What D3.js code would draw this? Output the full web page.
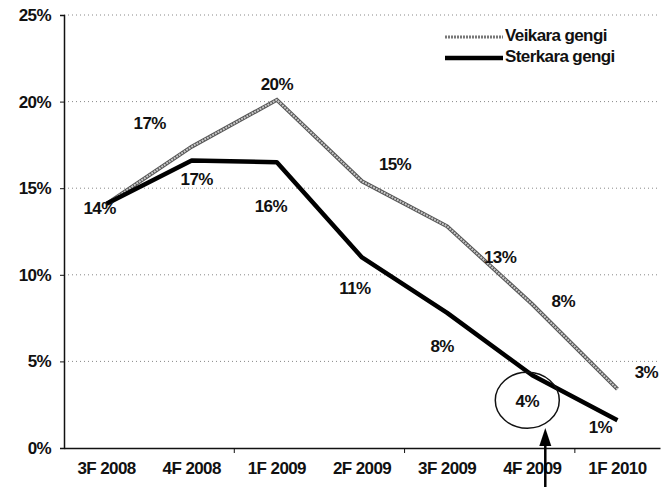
<!DOCTYPE html>
<html>
<head>
<meta charset="utf-8">
<script src="https://cdn.jsdelivr.net/npm/d3@7"></script>
<style>
  body { margin: 0; background: #fff; }
  text { font-family: "Liberation Sans", Arial, sans-serif; fill: #111; letter-spacing: -0.6px; }
</style>
</head>
<body>
<svg id="plot"></svg>
<script>
// Data
var quarters = ['3F 2008', '4F 2008', '1F 2009', '2F 2009', '3F 2009', '4F 2009', '1F 2010'];
var veikara = [14.1, 17.4, 20.1, 15.4, 12.8, 8.3, 3.4];
var sterkara = [14.1, 16.6, 16.5, 11.0, 7.8, 4.2, 1.6];
var veikaraLabels = ['', '17%', '20%', '15%', '13%', '8%', '3%'];
var sterkaraLabels = ['14%', '17%', '16%', '11%', '8%', '4%', '1%'];
var yTicks = [0, 5, 10, 15, 20, 25];
var seriesNames = ['Veikara gengi', 'Sterkara gengi'];

// label offsets from their points
var veikaraOffsets = [[0, 0], [-42, -22], [0, -14], [33, -16], [53, 32], [31, -2], [29, -16]];
var sterkaraOffsets = [[-7, 6], [5, 20], [-6, 45], [-7, 32], [-5, 35], [-5, 27], [-17, 8]];

var width = 667, height = 487;
var margin = {top: 15, right: 7, bottom: 39, left: 64};

var svg = d3.select('#plot')
  .attr('width', width)
  .attr('height', height);

var xScale = d3.scaleBand()
  .domain(quarters)
  .range([margin.left, width - margin.right]);

var yScale = d3.scaleLinear()
  .domain([0, 25])
  .range([height - margin.bottom, margin.top]);

var cx = d => xScale(d) + xScale.bandwidth() / 2;

// Gridlines
svg.append('g')
  .selectAll('line')
  .data(yTicks.filter(d => d > 0))
  .enter().append('line')
    .attr('x1', margin.left)
    .attr('x2', width - margin.right)
    .attr('y1', d => yScale(d))
    .attr('y2', d => yScale(d))
    .attr('stroke', '#888')
    .attr('stroke-width', 1)
    .attr('stroke-dasharray', '1,3');

// Y axis
var yAxis = svg.append('g')
  .attr('transform', 'translate(' + margin.left + ',0)')
  .call(d3.axisLeft(yScale).tickValues(yTicks).tickFormat(d => d + '%').tickSize(4));
yAxis.select('.domain').attr('stroke', '#111').attr('stroke-width', 1.5);
yAxis.selectAll('.tick line').attr('stroke', '#111');
yAxis.selectAll('text')
  .attr('x', -13)
  .style('font-size', '17px')
  .style('font-family', '"Liberation Sans", Arial, sans-serif')
  .style('font-weight', 'bold');

// X axis
var xAxis = svg.append('g')
  .attr('transform', 'translate(0,' + (height - margin.bottom) + ')')
  .call(d3.axisBottom(xScale).tickSize(0).tickSizeOuter(0));
xAxis.select('.domain').attr('stroke', '#111').attr('stroke-width', 1.5);
xAxis.selectAll('text')
  .attr('y', 14)
  .style('font-size', '17px')
  .style('font-family', '"Liberation Sans", Arial, sans-serif')
  .style('font-weight', 'bold');

// tick marks between every second pair of categories
svg.append('g')
  .selectAll('line')
  .data(quarters.filter((d, i) => i % 2 === 0 && i > 0))
  .enter().append('line')
    .attr('x1', d => xScale(d))
    .attr('x2', d => xScale(d))
    .attr('y1', yScale(0))
    .attr('y2', yScale(0) + 5)
    .attr('stroke', '#111');

var line = d3.line()
  .x((d, i) => cx(quarters[i]))
  .y(d => yScale(d));

// Veikara gengi (textured grey line)
svg.append('path')
  .datum(veikara)
  .attr('d', line)
  .attr('fill', 'none')
  .attr('stroke', '#555')
  .attr('stroke-width', 4);
svg.append('path')
  .datum(veikara)
  .attr('d', line)
  .attr('fill', 'none')
  .attr('stroke', '#c8c8c8')
  .attr('stroke-width', 2)
  .attr('stroke-dasharray', '2,1');

// Sterkara gengi (thick black line)
svg.append('path')
  .datum(sterkara)
  .attr('d', line)
  .attr('fill', 'none')
  .attr('stroke', '#000')
  .attr('stroke-width', 4.5)
  .attr('stroke-linejoin', 'round');

// Data labels
function addLabels(values, labels, offsets) {
  svg.append('g')
    .selectAll('text')
    .data(values)
    .enter().append('text')
      .attr('x', (d, i) => cx(quarters[i]) + offsets[i][0])
      .attr('y', (d, i) => yScale(d) + offsets[i][1])
      .attr('text-anchor', 'middle')
      .attr('dominant-baseline', 'middle')
      .style('font-size', '17px')
      .style('font-weight', 'bold')
      .text((d, i) => labels[i]);
}
addLabels(veikara, veikaraLabels, veikaraOffsets);
addLabels(sterkara, sterkaraLabels, sterkaraOffsets);

// Hand-drawn circle around the 4% label and arrow
var i4 = 5;
svg.append('ellipse')
  .attr('cx', cx(quarters[i4]) - 5)
  .attr('cy', yScale(sterkara[i4]) + 25)
  .attr('rx', 32)
  .attr('ry', 28)
  .attr('fill', 'none')
  .attr('stroke', '#111')
  .attr('stroke-width', 1.5);

var ax = cx(quarters[i4]) + 13;
svg.append('line')
  .attr('x1', ax).attr('x2', ax)
  .attr('y1', yScale(0) - 4).attr('y2', height)
  .attr('stroke', '#000')
  .attr('stroke-width', 2.5);
svg.append('path')
  .attr('d', 'M' + (ax - 6) + ',' + (yScale(0) - 2) + ' L' + ax + ',' + (yScale(0) - 20) + ' L' + (ax + 6) + ',' + (yScale(0) - 2) + ' Z')
  .attr('fill', '#000');

// Legend
var legend = svg.selectAll('.legend')
  .data(seriesNames)
  .enter().append('g')
  .attr('class', 'legend')
  .attr('transform', (d, i) => 'translate(445,' + (37 + i * 21) + ')');

legend.append('line')
  .attr('x1', 0).attr('x2', 58)
  .attr('stroke', (d, i) => i === 0 ? '#777' : '#000')
  .attr('stroke-width', (d, i) => i === 0 ? 3 : 4.5)
  .attr('stroke-dasharray', (d, i) => i === 0 ? '2,1' : null);

legend.append('text')
  .attr('x', 60)
  .attr('dominant-baseline', 'middle')
  .style('font-size', '17px')
  .style('font-weight', 'bold')
  .text(d => d);
</script>
</body>
</html>
